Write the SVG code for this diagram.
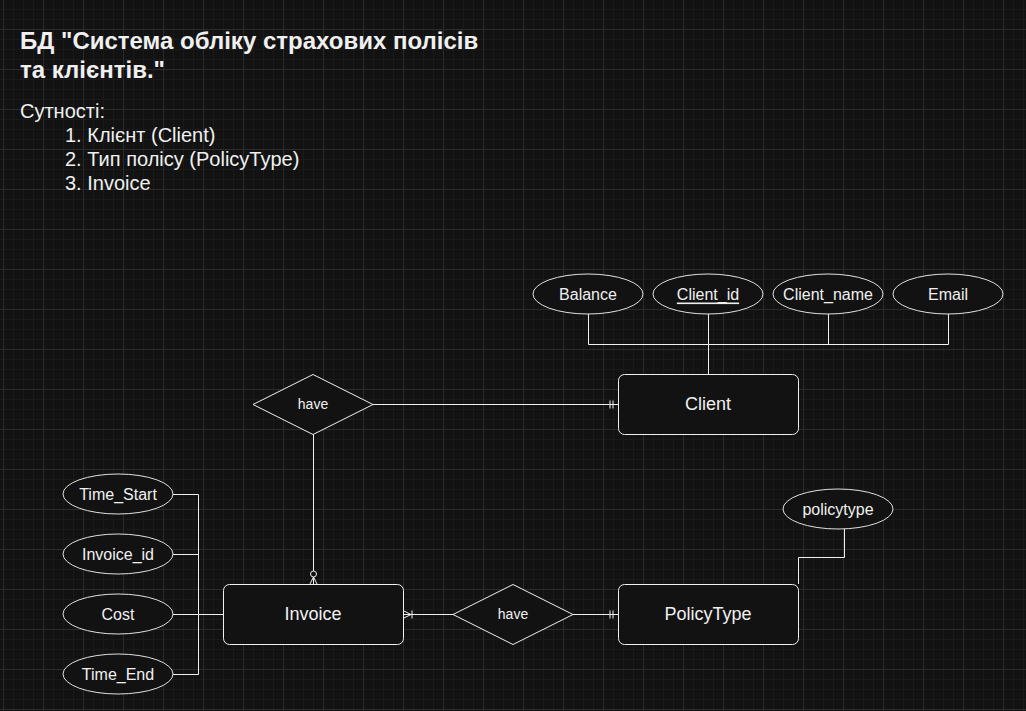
<svg xmlns="http://www.w3.org/2000/svg" width="1026" height="711" viewBox="0 0 1026 711">
<defs>
<pattern id="grid" patternUnits="userSpaceOnUse" x="3" y="29" width="40" height="40">
<rect width="40" height="40" fill="#121212"/>
<path d="M10.5 0V40M20.5 0V40M30.5 0V40M0 10.5H40M0 20.5H40M0 30.5H40" stroke="#1a1a1a" stroke-width="1"/>
<path d="M0.5 0V40M0 0.5H40" stroke="#2b2b2b" stroke-width="1"/>
</pattern>
<marker id="mandOne" markerUnits="userSpaceOnUse" viewBox="0 0 10 12" refX="10" refY="6" markerWidth="10" markerHeight="12" orient="auto">
<path d="M2 2V10M5 2V10" stroke="#f0f0f0" stroke-width="1" fill="none"/>
</marker>
<marker id="zeroMany" markerUnits="userSpaceOnUse" viewBox="0 0 14 12" refX="14" refY="6" markerWidth="14" markerHeight="12" orient="auto">
<circle cx="4" cy="6" r="3" fill="#121212" stroke="#f0f0f0" stroke-width="1"/>
<path d="M7 6L14 2.5M7 6L14 9.5M7 6H14" stroke="#f0f0f0" stroke-width="1" fill="none"/>
</marker>
<marker id="oneMany" markerUnits="userSpaceOnUse" viewBox="0 0 12 12" refX="12" refY="6" markerWidth="12" markerHeight="12" orient="auto">
<path d="M3 2V10M4 6L12 2M4 6L12 10M3 6H12" stroke="#f0f0f0" stroke-width="1" fill="none"/>
</marker>
</defs>
<style>
.t{font-family:"Liberation Sans",Arial,sans-serif;fill:#f0f0f0}
.title{font-size:24px;font-weight:bold}
.body{font-size:20px}
.ent{fill:#121212;stroke:#f0f0f0;stroke-width:1}
.attr{fill:#121212;stroke:#e0e0e0;stroke-width:1}
.lbl{font-family:"Liberation Sans",Arial,sans-serif;fill:#f0f0f0;text-anchor:middle;dominant-baseline:central}
.el{font-size:16px}
.en{font-size:18px}
.rl{font-size:14px}
.c{fill:none;stroke:#f0f0f0;stroke-width:1}
</style>
<rect width="1026" height="711" fill="url(#grid)"/>
<g id="heading">
<text class="t title" x="20" y="49">БД "Система обліку страхових полісів</text>
<text class="t title" x="20" y="78">та клієнтів."</text>
<text class="t body" x="20" y="118">Сутності:</text>
<text class="t body" x="65" y="142">1. Клієнт (Client)</text>
<text class="t body" x="65" y="166">2. Тип полісу (PolicyType)</text>
<text class="t body" x="65" y="190">3. Invoice</text>
</g>
<g id="connectors">
<path class="c" d="M588.5 314V344.5H948.5V314M828.5 314V344.5M708.5 314V374"/>
<path class="c" d="M373 404.5H618" marker-end="url(#mandOne)"/>
<path class="c" d="M313.5 434V584" marker-end="url(#zeroMany)"/>
<path class="c" d="M453 614.5H403" marker-end="url(#oneMany)"/>
<path class="c" d="M573 614.5H618" marker-end="url(#mandOne)"/>
<path class="c" d="M844.5 529V557.5H798.5V584"/>
<path class="c" d="M173 494.5H198.5V674.5H173M173 554.5H198.5M173 614.5H223"/>
</g>
<g id="balance"><ellipse class="attr" cx="588" cy="294" rx="55" ry="20"/><text class="lbl el" x="588" y="294">Balance</text></g>
<g id="client_id"><ellipse class="attr" cx="708" cy="294" rx="55" ry="20"/><text class="lbl el" x="708" y="294" text-decoration="underline">Client_id</text></g>
<g id="client_name"><ellipse class="attr" cx="828" cy="294" rx="55" ry="20"/><text class="lbl el" x="828" y="294">Client_name</text></g>
<g id="email"><ellipse class="attr" cx="948" cy="294" rx="55" ry="20"/><text class="lbl el" x="948" y="294">Email</text></g>
<g id="client"><rect class="ent" x="618.5" y="374.5" width="180" height="60" rx="6"/><text class="lbl en" x="708" y="404">Client</text></g>
<g id="have1"><polygon class="ent" points="313,374.5 373,404.5 313,434.5 253,404.5"/><text class="lbl rl" x="313" y="404">have</text></g>
<g id="invoice"><rect class="ent" x="223.5" y="584.5" width="180" height="60" rx="6"/><text class="lbl en" x="313" y="614">Invoice</text></g>
<g id="have2"><polygon class="ent" points="513,584.5 573,614.5 513,644.5 453,614.5"/><text class="lbl rl" x="513" y="614">have</text></g>
<g id="policytype_entity"><rect class="ent" x="618.5" y="584.5" width="180" height="60" rx="6"/><text class="lbl en" x="708" y="614">PolicyType</text></g>
<g id="policytype_attr"><ellipse class="attr" cx="838" cy="509" rx="55" ry="20"/><text class="lbl el" x="838" y="509">policytype</text></g>
<g id="time_start"><ellipse class="attr" cx="118" cy="494" rx="55" ry="20"/><text class="lbl el" x="118" y="494">Time_Start</text></g>
<g id="invoice_id"><ellipse class="attr" cx="118" cy="554" rx="55" ry="20"/><text class="lbl el" x="118" y="554">Invoice_id</text></g>
<g id="cost"><ellipse class="attr" cx="118" cy="614" rx="55" ry="20"/><text class="lbl el" x="118" y="614">Cost</text></g>
<g id="time_end"><ellipse class="attr" cx="118" cy="674" rx="55" ry="20"/><text class="lbl el" x="118" y="674">Time_End</text></g>
</svg>
